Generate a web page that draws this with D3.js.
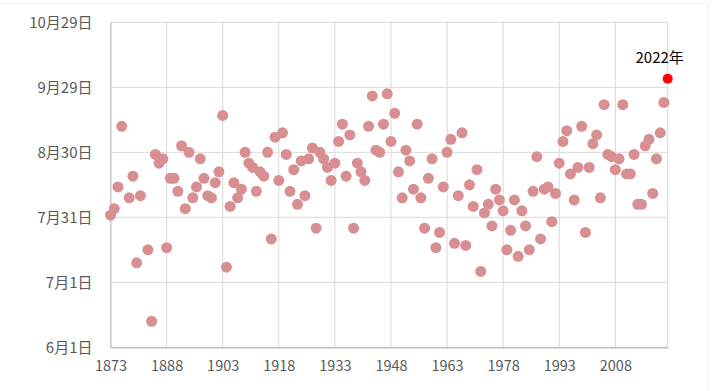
<!DOCTYPE html>
<html><head><meta charset="utf-8">
<script src="https://cdn.jsdelivr.net/npm/d3@7/dist/d3.min.js"></script>
<style>body{margin:0;background:#fff;}svg{display:block;}</style>
</head><body><svg id="c" width="713" height="391"></svg>
<script>
// Years 1873..2022 (null = no data)
const startYear = 1873;
// dates as "M-D"
const dates = [
"8-1","8-4","8-14","9-11",null,"8-9","8-19","7-10","8-10",null,
"7-16","6-13","8-29","8-25","8-27","7-17","8-18","8-18","8-12","9-2",
"8-4","8-30","8-9","8-14","8-27","8-18","8-10","8-9","8-16","8-21",
"9-16","7-8","8-5","8-16","8-9","8-13","8-30","8-25","8-23","8-12",
"8-21","8-19","8-30","7-21","9-6","8-17","9-8","8-29","8-12","8-22",
"8-6","8-26","8-10","8-27","9-1","7-26","8-30","8-27","8-23","8-17",
"8-25","9-4","9-12","8-19","9-7","7-26","8-25","8-21","8-17","9-11",
"9-25","8-31","8-30","9-12","9-26","9-4","9-17","8-21","8-9","8-31",
"8-26","8-13","9-12","8-9","7-26","8-18","8-27","7-17","7-24","8-14",
"8-30","9-5","7-19","8-10","9-8","7-18","8-15","8-5","8-22","7-6",
"8-2","8-6","7-27","8-13","8-8","8-3","7-16","7-25","8-8","7-13",
"8-3","7-27","7-16","8-12","8-28","7-21","8-13","8-14","7-29","8-11",
"8-25","9-4","9-9","8-20","8-8","8-23","9-11","7-24","8-23","9-3",
"9-7","8-9","9-21","8-29","8-28","8-22","8-27","9-21","8-20","8-20",
"8-29","8-6","8-6","9-2","9-5","8-11","8-27","9-8","9-22","10-3"
];
const xTicks = [1873,1888,1903,1918,1933,1948,1963,1978,1993,2008];
const yTickDates = ["6-1","7-1","7-31","8-30","9-29","10-29"];
const highlightYear = 2022;
const highlightLabel = "2022年";

function toDate(s){const [m,d]=s.split("-").map(Number);return new Date(2000,m-1,d);}
const data = dates.map((d,i)=>({year:startYear+i, date:d?toDate(d):null})).filter(d=>d.date);

const svg = d3.select("#c");
const m = {l:110.5, r:713-667.7, t:22.3, b:391-347.3};
const W = 713, H = 391;
const x = d3.scaleLinear().domain([1873,2022]).range([m.l, W-m.r]);
const y = d3.scaleTime().domain([toDate("6-1"), toDate("10-29")]).range([H-m.b, m.t]);

// faint chart border
svg.append("rect").attr("x",-5).attr("y",3.5).attr("width",713.5-5.5+5-0).attr("height",400)
  .attr("fill","none").attr("stroke","#f0f0f0");

const fontF = "'Noto Sans CJK JP','Noto Sans',sans-serif";
// gridlines
const g = svg.append("g");
g.selectAll(".hy").data(yTickDates.map(toDate)).join("line")
  .attr("x1",m.l).attr("x2",W-m.r).attr("y1",d=>y(d)).attr("y2",d=>y(d))
  .attr("stroke","#d9d9d9").attr("stroke-width",1);
g.selectAll(".vx").data(xTicks.concat([2022])).join("line")
  .attr("y1",m.t).attr("y2",H-m.b).attr("x1",d=>x(d)).attr("x2",d=>x(d))
  .attr("stroke","#d9d9d9").attr("stroke-width",1);

// axes
const yAxis = d3.axisLeft(y).tickValues(yTickDates.map(toDate))
  .tickFormat(d=>(d.getMonth()+1)+"月"+d.getDate()+"日").tickSize(0).tickPadding(18);
const ya = svg.append("g").attr("transform",`translate(${m.l},0)`).call(yAxis);
ya.select(".domain").attr("stroke","#bfbfbf");
ya.selectAll("text").attr("fill","#595959").style("font-family",fontF).style("font-size","15px");

const xAxis = d3.axisBottom(x).tickValues(xTicks).tickFormat(d3.format("d")).tickSize(0).tickPadding(13);
const xa = svg.append("g").attr("transform",`translate(0,${H-m.b})`).call(xAxis);
xa.select(".domain").attr("stroke","#bfbfbf").attr("stroke-width",1.5);
xa.selectAll("text").attr("fill","#595959").style("font-family",fontF).style("font-size","14.5px");

// points
svg.append("g").selectAll("circle").data(data.filter(d=>d.year!==highlightYear)).join("circle")
  .attr("cx",d=>x(d.year)).attr("cy",d=>y(d.date)).attr("r",5.5).attr("fill","#d88f92");
const hl = data.find(d=>d.year===highlightYear);
svg.append("circle").attr("cx",x(hl.year)).attr("cy",y(hl.date)).attr("r",5).attr("fill","#ff0000");
svg.append("text").attr("x",x(hl.year)-8).attr("y",y(hl.date)-16).attr("text-anchor","middle")
  .attr("fill","#000").style("font-family",fontF).style("font-size","15px").text(highlightLabel);
</script></body></html>
